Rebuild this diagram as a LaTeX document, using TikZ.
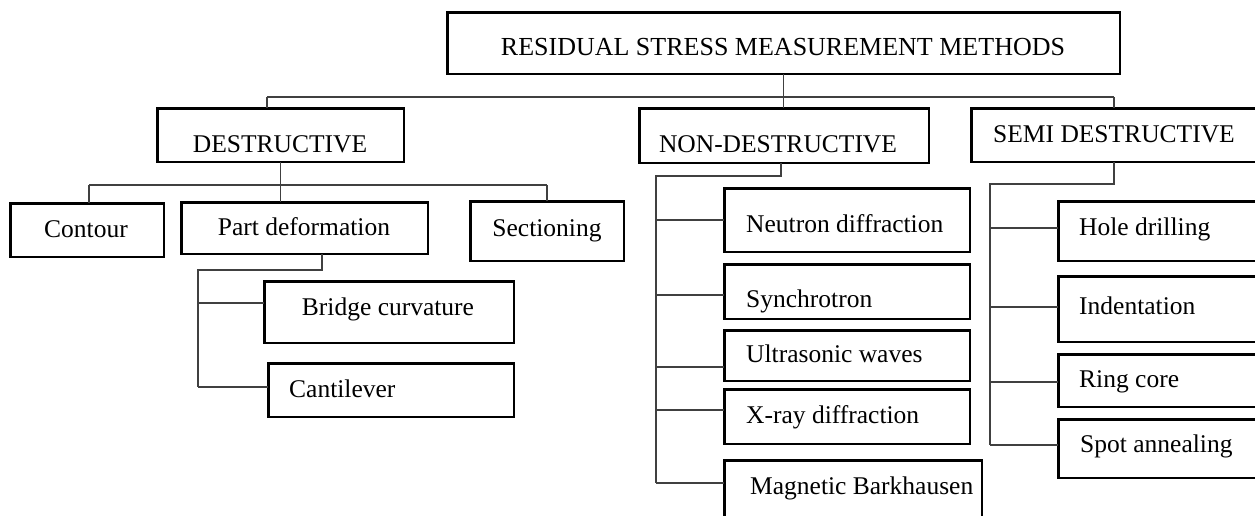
\documentclass[tikz,border=0pt]{standalone}
\usepackage{fontspec}
\setmainfont{Liberation Serif}
\usetikzlibrary{calc}
\tikzset{
  box/.style={draw=black, line width=2.5pt, inner sep=0pt, outer sep=0pt},
  conn/.style={draw=black!75, line width=1.1pt},
  lbl/.style={inner sep=0pt, font=\fontsize{25.5}{30}\selectfont},
  lblc/.style={lbl, anchor=base},
  lbll/.style={lbl, anchor=base west},
}
\newcommand{\mkbox}[5]{\node[box, minimum width={#4-#2-2.5}, minimum height={#5-#3-2.5}] (#1) at ({(#2+#4)/2},{(#3+#5)/2}) {};}
\begin{document}
\begin{tikzpicture}[x=1pt,y=-1pt]
\useasboundingbox (0,0) rectangle (1255,515);
\clip (0,0) rectangle (1255,515);
\fill[white] (0,0) rectangle (1255,515);

% boxes
\mkbox{root}{446}{11}{1121}{75}
\mkbox{des}{156}{107}{405}{163}
\mkbox{nd}{638}{107}{930}{164}
\mkbox{semi}{970}{107}{1265}{163}
\mkbox{contour}{9}{202}{165}{258}
\mkbox{partdef}{180}{201}{429}{255}
\mkbox{section}{469}{200}{625}{262}
\mkbox{bridge}{263}{280}{515}{344}
\mkbox{canti}{267}{362}{515}{418}
\mkbox{neutron}{723}{187}{971}{253}
\mkbox{synch}{723}{263}{971}{320}
\mkbox{ultra}{723}{329}{971}{382}
\mkbox{xray}{723}{388}{971}{445}
\mkbox{magnetic}{723}{459}{983}{535}
\mkbox{hole}{1057}{200}{1265}{262}
\mkbox{indent}{1057}{275}{1265}{343}
\mkbox{ring}{1057}{353}{1265}{408}
\mkbox{spot}{1057}{418}{1265}{479}

% labels
\node[lblc, font=\fontsize{26}{30}\selectfont] (troot) at (783,55) {RESIDUAL STRESS MEASUREMENT METHODS};
\node[lblc] (tdes) at (280,152) {DESTRUCTIVE};
\node[lblc] (tnd) at (778,152) {NON-DESTRUCTIVE};
\node[lbll] (tsemi) at (993,142) {SEMI DESTRUCTIVE};
\node[lblc] (tcontour) at (86,237) {Contour};
\node[lblc] (tpartdef) at (304,235) {Part deformation};
\node[lblc] (tsection) at (547,236) {Sectioning};
\node[lblc] (tbridge) at (388,315) {Bridge curvature};
\node[lbll] (tcanti) at (289,397) {Cantilever};
\node[lbll] (tneutron) at (746,232) {Neutron diffraction};
\node[lbll] (tsynch) at (746,307) {Synchrotron};
\node[lbll] (tultra) at (746,362) {Ultrasonic waves};
\node[lbll] (txray) at (746,423) {X-ray diffraction};
\node[lbll] (tmagnetic) at (750,494) {Magnetic Barkhausen};
\node[lbll] (thole) at (1079,235) {Hole drilling};
\node[lbll] (tindent) at (1079,314) {Indentation};
\node[lbll] (tring) at (1079,387) {Ring core};
\node[lbll] (tspot) at (1080,452) {Spot annealing};

% root level
\coordinate (busL) at (267,97);
\coordinate (busR) at (1114,97);
\draw[conn] (root.south) -- (root.south |- nd.north);
\draw[conn] (busL) -- (busR);
\draw[conn] (busL) -- (busL |- des.north);
\draw[conn] (busR) -- (busR |- semi.north);

% destructive
\coordinate (dL) at (89,185);
\coordinate (dR) at (547,185);
\draw[conn] (des.south) -- (des.south |- partdef.north);
\draw[conn] (dL) -- (dR);
\draw[conn] (dL) -- (dL |- contour.north);
\draw[conn] (dR) -- (dR |- section.north);

% part deformation
\coordinate (pA) at (322,270);
\coordinate (pB) at (198,270);
\coordinate (pb1) at (198,303);
\coordinate (pb2) at (198,387);
\draw[conn] (pA |- partdef.south) -- (pA) -- (pB) -- (pb2);
\draw[conn] (pb1) -- (pb1 -| bridge.west);
\draw[conn] (pb2) -- (pb2 -| canti.west);

% non-destructive
\coordinate (nA) at (781,176);
\coordinate (nB) at (656,176);
\coordinate (n1) at (656,220);
\coordinate (n2) at (656,295);
\coordinate (n3) at (656,367);
\coordinate (n4) at (656,410);
\coordinate (n5) at (656,483);
\draw[conn] (nA |- nd.south) -- (nA) -- (nB) -- (n5);
\draw[conn] (n1) -- (n1 -| neutron.west);
\draw[conn] (n2) -- (n2 -| synch.west);
\draw[conn] (n3) -- (n3 -| ultra.west);
\draw[conn] (n4) -- (n4 -| xray.west);
\draw[conn] (n5) -- (n5 -| magnetic.west);

% semi destructive
\coordinate (sA) at (1114,184);
\coordinate (sB) at (990,184);
\coordinate (s1) at (990,228);
\coordinate (s2) at (990,307);
\coordinate (s3) at (990,382);
\coordinate (s4) at (990,445);
\draw[conn] (sA |- semi.south) -- (sA) -- (sB) -- (s4);
\draw[conn] (s1) -- (s1 -| hole.west);
\draw[conn] (s2) -- (s2 -| indent.west);
\draw[conn] (s3) -- (s3 -| ring.west);
\draw[conn] (s4) -- (s4 -| spot.west);
\end{tikzpicture}
\end{document}
